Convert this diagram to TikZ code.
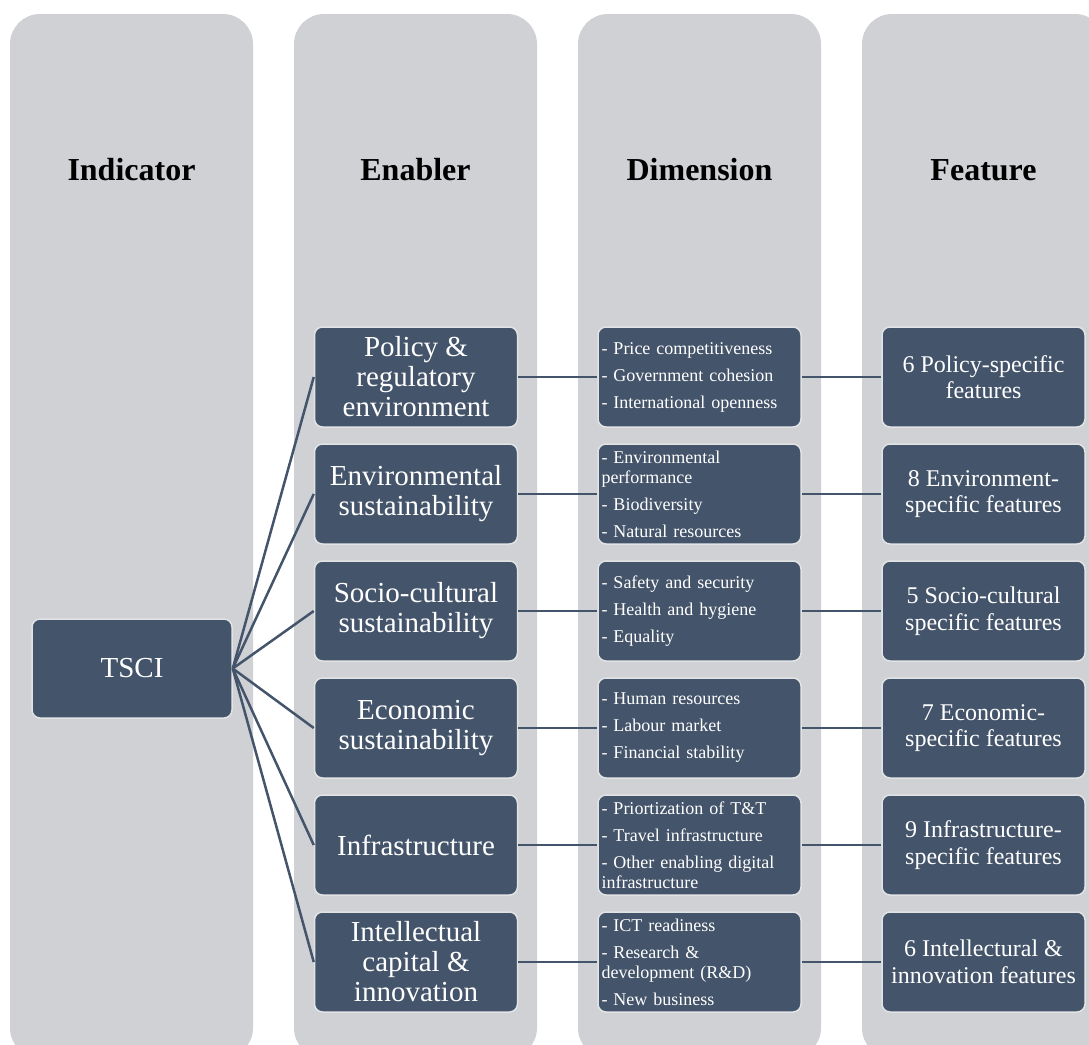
\documentclass[tikz,border=0pt]{standalone}
\usepackage{fontspec}
\setmainfont{Liberation Serif}
\usepackage{xcolor}
\usepackage{tikz}
\definecolor{slateblue}{RGB}{68, 84, 106}
\definecolor{panelgray}{RGB}{208, 209, 213}
\definecolor{rimgray}{RGB}{226, 227, 229}

\tikzset{
  headtext/.style={font=\fontsize{32}{36}\selectfont\bfseries, anchor=base},
  box/.style={draw=rimgray, line width=1.5pt, fill=slateblue, rounded corners=8pt,
    text=white, minimum width=203pt, minimum height=100pt, inner sep=3pt, align=center},
  enabler/.style={box, font=\fontsize{29}{30}\selectfont},
  dimension/.style={box, align=left, text width=196pt, font=\fontsize{18}{20}\selectfont},
  feature/.style={box, font=\fontsize{24}{26.5}\selectfont},
  link/.style={slateblue, line width=2.5pt}
}

\begin{document}
\begin{tikzpicture}[x=1pt, y=-1pt]
  \clip (0,0) rectangle (1089,1044);
  % grey columns with their headings
  \foreach \cx/\head in {131.5/Indicator, 415.5/Enabler, 699.5/Dimension, 983.5/Feature} {
    \fill[panelgray, rounded corners=30pt] (\cx-121.5,14) rectangle (\cx+121.5,1058);
    \node[headtext] (h\head) at (\cx,180) {\head};
  }
  % root of the tree
  \node[box, minimum width=200pt, minimum height=99pt, font=\fontsize{29}{30}\selectfont]
    (tsci) at (132,668.5) {TSCI};
  % one row per enabler
  \foreach \i/\en/\dm/\ft in {
    1/{Policy \&\\regulatory\\environment}/{- Price competitiveness\\[7pt]- Government cohesion\\[7pt]- International openness}/{6 Policy-specific\\features},
    2/{Environmental\\sustainability}/{- Environmental\\performance\\[7pt]- Biodiversity\\[7pt]- Natural resources}/{8 Environment-\\specific features},
    3/{Socio-cultural\\sustainability}/{- Safety and security\\[7pt]- Health and hygiene\\[7pt]- Equality}/{5 Socio-cultural\\specific features},
    4/{Economic\\sustainability}/{- Human resources\\[7pt]- Labour market\\[7pt]- Financial stability}/{7 Economic-\\specific features},
    5/{Infrastructure}/{- Priortization of T\&T\\[7pt]- Travel infrastructure\\[7pt]- Other enabling digital\\infrastructure}/{9 Infrastructure-\\specific features},
    6/{Intellectual\\capital \&\\innovation}/{- ICT readiness\\[7pt]- Research \&\\development (R\&D)\\[7pt]- New business}/{6 Intellectural \&\\innovation features}} {
    \node[enabler] (en\i) at (416,260+117*\i) {\en};
    \node[dimension] (dm\i) at (699.5,260+117*\i) {\dm};
    \node[feature] (ft\i) at (983.5,260+117*\i) {\ft};
    \draw[link] (tsci.east) -- (en\i.west);
    \draw[link] (en\i) -- (dm\i);
    \draw[link] (dm\i) -- (ft\i);
  }
\end{tikzpicture}
\end{document}
